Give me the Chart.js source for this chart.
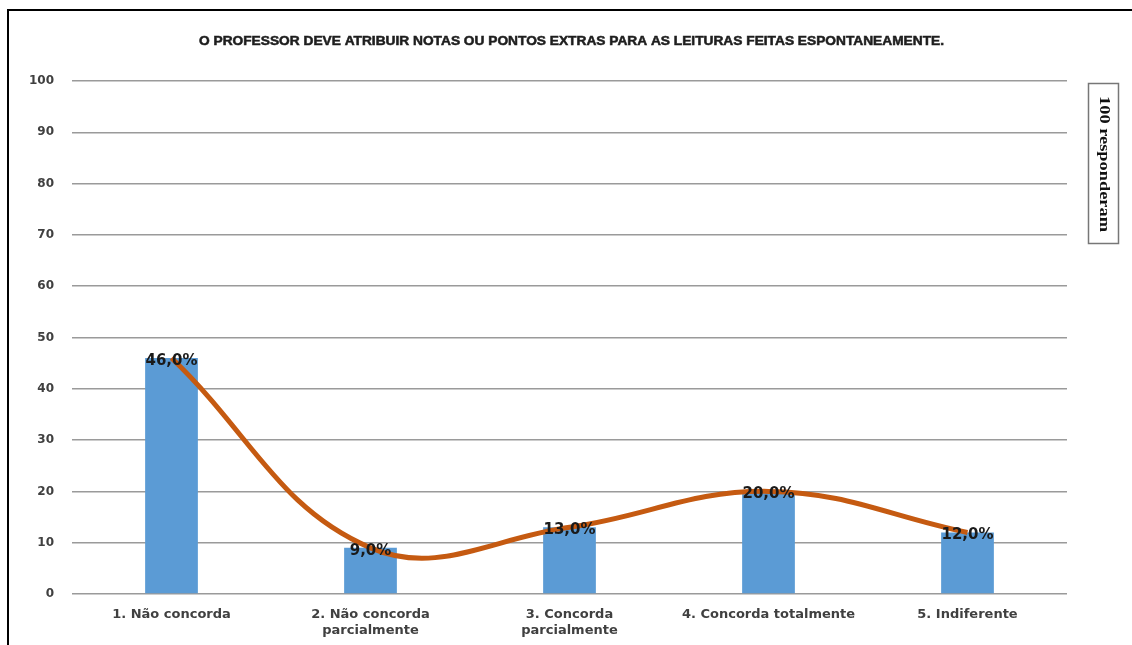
<!DOCTYPE html>
<html>
<head>
<meta charset="utf-8">
<script src="https://cdn.jsdelivr.net/npm/chart.js@4/dist/chart.umd.min.js"></script>
<style>
  html, body { margin: 0; padding: 0; background: #fff; }
  #wrap { position: relative; width: 1132px; height: 645px; overflow: hidden; }
  #frame { position: absolute; left: 7px; top: 9px; right: -10px; bottom: -10px;
           border-left: 2px solid #000; border-top: 2px solid #000; pointer-events: none; }
  canvas { position: absolute; left: 0; top: 0; }
</style>
</head>
<body>
<div id="wrap">
  <canvas id="myCanvas" width="1132" height="645"></canvas>
  <div id="frame"></div>
</div>
<script>
const titleText = "O PROFESSOR DEVE ATRIBUIR NOTAS OU PONTOS EXTRAS PARA AS LEITURAS FEITAS ESPONTANEAMENTE.";
const sideNote = "100 responderam";
const categories = [
  "1. Não concorda",
  ["2. Não concorda", "parcialmente"],
  ["3. Concorda", "parcialmente"],
  "4. Concorda totalmente",
  "5. Indiferente"
];
const percentages = [46, 9, 13, 20, 12];
const yTicks = [0, 10, 20, 30, 40, 50, 60, 70, 80, 90, 100];

const barColor = "#5b9bd5";
const lineColor = "#c55a11";
const wideFont = "'DejaVu Sans', Verdana, sans-serif";

// title, side note box and value labels
const decorations = {
  id: "decorations",
  afterDatasetsDraw(chart) {
    const ctx = chart.ctx;
    const meta = chart.getDatasetMeta(1);
    ctx.save();
    ctx.font = "bold 15px " + wideFont;
    ctx.fillStyle = "#1a1a1a";
    ctx.textAlign = "center";
    ctx.textBaseline = "middle";
    meta.data.forEach((pt, i) => {
      const v = percentages[i];
      ctx.fillText(v.toFixed(1).replace(".", ",") + "%", pt.x, pt.y + 3);
    });
    ctx.restore();
  },
  afterDraw(chart) {
    const ctx = chart.ctx;
    ctx.save();
    // title squeezed to the narrow width it has
    ctx.font = "bold 12px 'Liberation Sans Narrow', 'Liberation Sans', Arial, sans-serif";
    ctx.fillStyle = "#1e1e1e";
    ctx.strokeStyle = "#1e1e1e";
    ctx.lineWidth = 0.5;
    ctx.textBaseline = "middle";
    const w = ctx.measureText(titleText).width;
    const target = 745;
    ctx.translate(199, 42);
    ctx.scale(target / w, 1);
    ctx.textAlign = "left";
    ctx.fillText(titleText, 0, 0);
    ctx.strokeText(titleText, 0, 0);
    ctx.restore();

    // vertical note at the right
    ctx.save();
    ctx.strokeStyle = "#777";
    ctx.lineWidth = 1.5;
    ctx.strokeRect(1088.5, 83.5, 30, 160);
    ctx.translate(1103.5, 164);
    ctx.rotate(Math.PI / 2);
    ctx.font = "bold 14px 'Liberation Serif', 'DejaVu Serif', serif";
    ctx.fillStyle = "#111";
    ctx.textAlign = "center";
    ctx.textBaseline = "middle";
    const nw = ctx.measureText(sideNote).width;
    ctx.scale(136 / nw, 1);
    ctx.fillText(sideNote, 0, 0);
    ctx.restore();
  }
};

const chart = new Chart(document.getElementById("myCanvas"), {
  data: {
    labels: categories,
    datasets: [
      {
        type: "line",
        data: percentages,
        borderColor: lineColor,
        borderWidth: 5,
        tension: 0.4,
        pointRadius: 0,
        fill: false,
        order: 0
      },
      {
        type: "bar",
        data: percentages,
        backgroundColor: barColor,
        categoryPercentage: 1,
        barPercentage: 0.265,
        order: 1
      }
    ]
  },
  options: {
    responsive: false,
    animation: false,
    layout: { padding: { top: 81, right: 65, left: 0, bottom: 0 } },
    plugins: {
      legend: { display: false },
      tooltip: { enabled: false }
    },
    scales: {
      x: {
        grid: { display: false },
        border: { display: false },
        ticks: {
          color: "#404040",
          font: { family: wideFont, size: 13, weight: "bold", lineHeight: 1.25 },
          padding: 4,
          maxRotation: 0,
          autoSkip: false
        },
        afterFit(scale) { scale.height = 51; }
      },
      y: {
        min: 0,
        max: 100,
        afterBuildTicks(scale) { scale.ticks = yTicks.map(v => ({ value: v })); },
        grid: { color: "#9a9a9a", lineWidth: 1.5, drawTicks: false },
        border: { display: false },
        ticks: {
          color: "#404040",
          font: { family: wideFont, size: 12, weight: "bold" },
          padding: 18
        },
        afterFit(scale) { scale.width = 72; }
      }
    }
  },
  plugins: [decorations]
});
</script>
</body>
</html>
